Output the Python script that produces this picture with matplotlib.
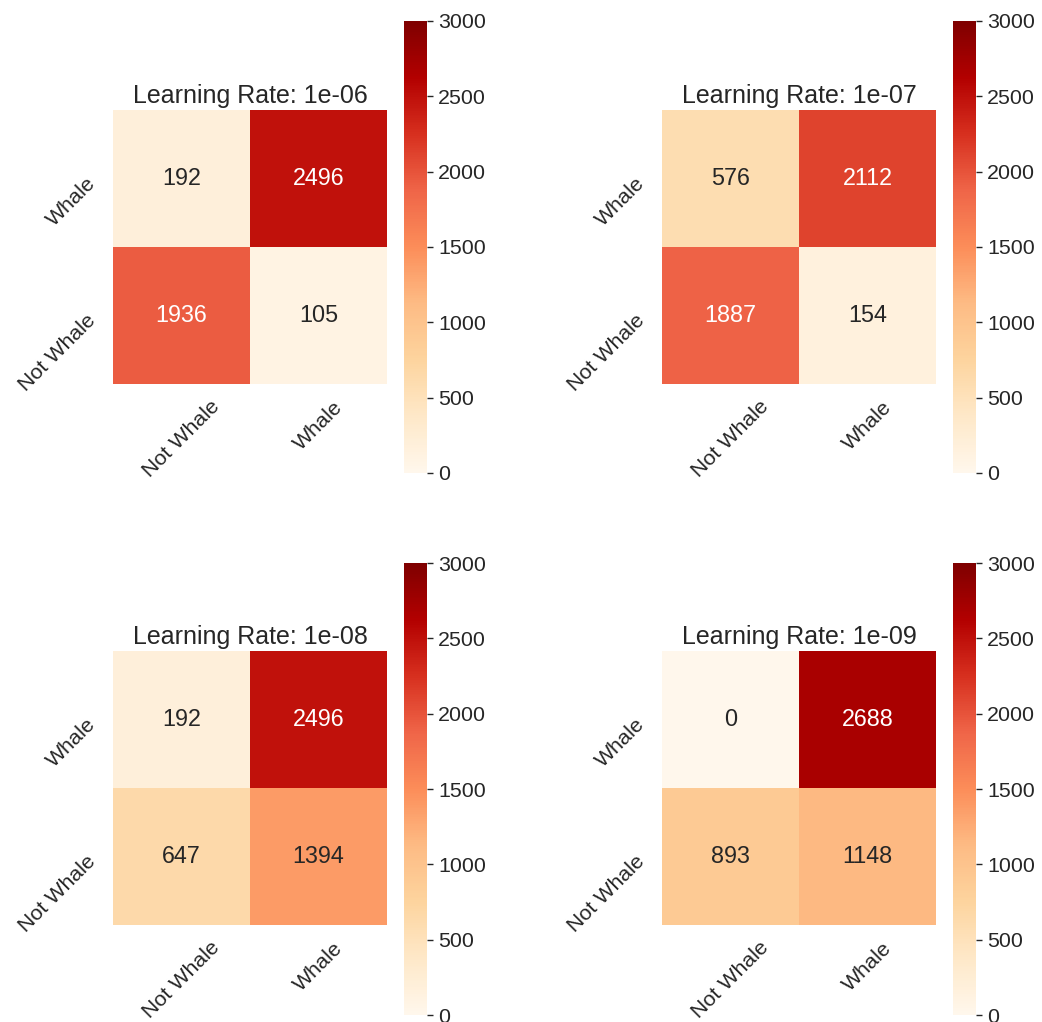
import matplotlib
matplotlib.use('Agg')
import matplotlib.pyplot as plt
import matplotlib.transforms as mtransforms
import seaborn as sns
import numpy as np

# Confusion matrices per learning rate (rows shown top to bottom)
labels = ['Not Whale', 'Whale']
row_labels = ['Whale', 'Not Whale']
learning_rates = ['1e-06', '1e-07', '1e-08', '1e-09']
cm_1e6 = [[192, 2496], [1936, 105]]
cm_1e7 = [[576, 2112], [1887, 154]]
cm_1e8 = [[192, 2496], [647, 1394]]
cm_1e9 = [[0, 2688], [893, 1148]]
matrices = [cm_1e6, cm_1e7, cm_1e8, cm_1e9]

sns.set_theme(style='white', font_scale=1.4)
plt.rcParams['font.family'] = ['Liberation Sans', 'DejaVu Sans']

W, H = 1042, 1022
fig = plt.figure(figsize=(W / 100, H / 100), dpi=100)

# pixel boxes: (left, top) of heatmap and colorbar for each panel
heat_px = [(113, 110), (662, 110), (113, 651), (662, 651)]
cbar_px = [(404, 21), (953, 21), (404, 563), (953, 563)]
heat_size = 274
cbar_w, cbar_h = 23, 452

# nudge the rotated row labels up a little
shift_up = mtransforms.ScaledTranslation(0, 5 / 100, fig.dpi_scale_trans)

for lr, cm, (hx, hy), (cx, cy) in zip(learning_rates, matrices, heat_px, cbar_px):
    ax = fig.add_axes([hx / W, (H - hy - heat_size) / H, heat_size / W, heat_size / H])
    cax = fig.add_axes([cx / W, (H - cy - cbar_h) / H, cbar_w / W, cbar_h / H])
    sns.heatmap(np.array(cm), annot=True, fmt='d', cmap='OrRd', vmin=0, vmax=3000,
                square=True, ax=ax, cbar_ax=cax,
                xticklabels=labels, yticklabels=row_labels)
    ax.set_title(f'Learning Rate: {lr}', fontsize=18, pad=5)
    ax.set_xticklabels(labels, rotation=45, ha='center')
    ax.set_yticklabels(row_labels, rotation=45, va='top')
    for t in ax.get_yticklabels():
        t.set_transform(t.get_transform() + shift_up)
    cax.tick_params(length=4.5, width=1)

plt.savefig('out.png', dpi=100)
plt.close()
